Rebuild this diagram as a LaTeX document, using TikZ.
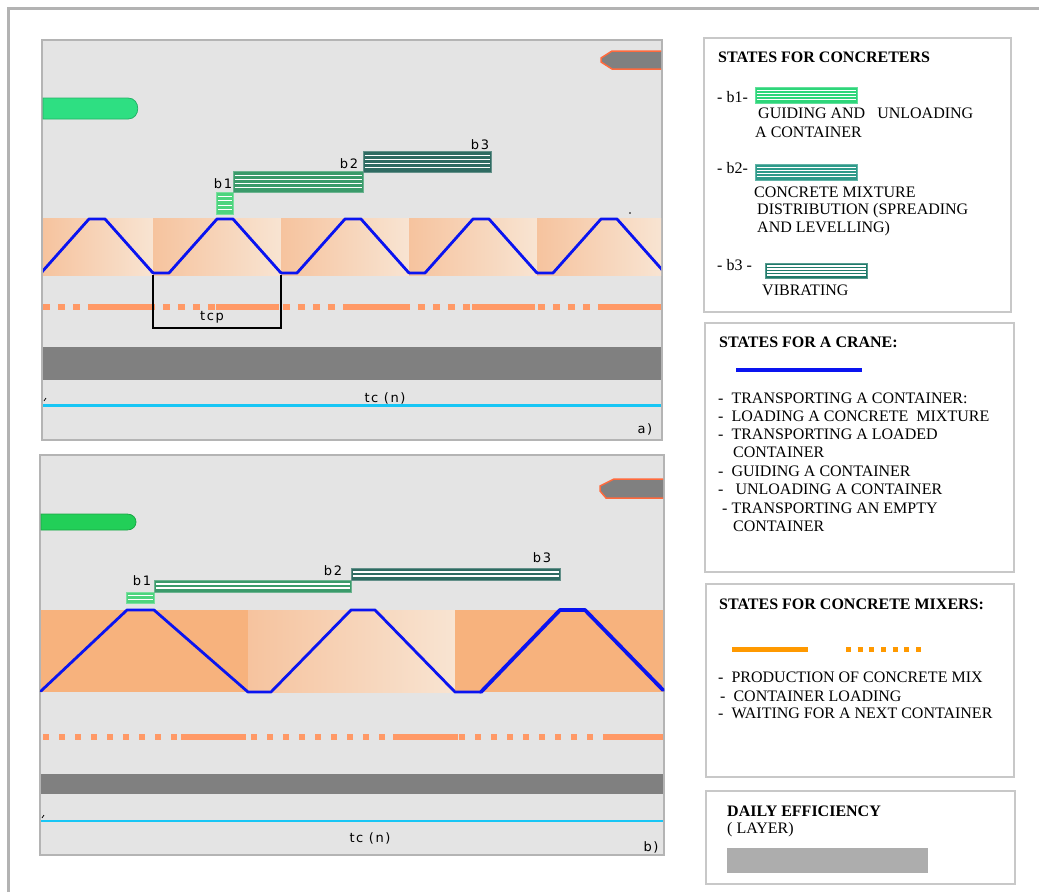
\documentclass[tikz,border=0pt]{standalone}
\usepackage{fontspec}
\setmainfont{Liberation Serif}
\newfontfamily\chartfont[LetterSpace=12]{DejaVu Sans}

\definecolor{panelbg}{HTML}{E4E4E4}
\definecolor{panelrule}{HTML}{B4B4B4}
\definecolor{boxrule}{HTML}{C8C8C8}
\definecolor{framerule}{HTML}{B3B3B3}
\definecolor{pillgreen}{HTML}{2EDF82}
\definecolor{pillgreenb}{HTML}{22CF58}
\definecolor{arrowgrey}{HTML}{808080}
\definecolor{arroworange}{HTML}{FF6A3D}
\definecolor{craneblue}{HTML}{0A14F0}
\definecolor{peachD}{HTML}{F6C39E}
\definecolor{peachL}{HTML}{F8E4D2}
\definecolor{peachS}{HTML}{F7B27D}
\definecolor{mixorange}{HTML}{FF9966}
\definecolor{legorange}{HTML}{FF9900}
\definecolor{bandgrey}{HTML}{808080}
\definecolor{layergrey}{HTML}{ADADAD}
\definecolor{timecyan}{HTML}{18C6F5}
\definecolor{bgreenL}{HTML}{4DD47E}
\definecolor{bgreenB}{HTML}{3A9A6A}
\definecolor{bteal}{HTML}{2F6B62}
\definecolor{lgreen}{HTML}{2ED67A}
\definecolor{lteal}{HTML}{2E9A8A}
\definecolor{ldteal}{HTML}{1F7A6A}

% striped state bar: x1,y1,x2,y2,colour,number of stripes
\newcommand{\hatchbar}[6]{%
  \filldraw[fill=#5, draw=#5!75!white, line width=0.8] (#1,#2) rectangle (#3,#4);
  \foreach \nn in {1,...,#6}
    \draw[white, line width=1.1] (#1+1.5,{#2+\nn*(#4-#2)/(#6+1)}) -- (#3-1.5,{#2+\nn*(#4-#2)/(#6+1)});
}

\begin{document}
\begin{tikzpicture}[x=1pt,y=-1pt,
panel/.style ={draw=panelrule, line width=2.5, fill=panelbg},
legbox/.style ={draw=boxrule, line width=1.8},
crane/.style ={draw=craneblue, line width=2.8, line join=round, line cap=round},
mixline/.style ={draw=mixorange, line width=6},
chartlbl/.style ={inner sep=0, font=\chartfont\fontsize{13}{13}\selectfont},
legtxt/.style ={anchor=west, inner sep=0, font=\fontsize{16}{18}\selectfont},
legtitle/.style ={anchor=west, inner sep=0, font=\fontsize{16}{18}\selectfont\bfseries}
]
\useasboundingbox (0,0) rectangle (1039,892);
\fill[white] (0,0) rectangle (1039,892);
\draw[framerule, line width=3] (8,892) -- (8,8) -- (1039,8);

% ---- chart a) ----
\draw[panel] (42,40) rectangle (662,440);
\filldraw[fill=pillgreen, draw=pillgreen!80!black, line width=0.8]
  (43,98) -- (128,98) .. controls (141,98) and (141,119) .. (128,119) -- (43,119) -- cycle;
\fill[arrowgrey] (661,51) -- (612,51) -- (601,58) -- (601,62) -- (612,69) -- (661,69) -- cycle;
\draw[arroworange, line width=1.5] (661,51) -- (612,51) -- (601,58) -- (601,62) -- (612,69) -- (661,69);

\foreach \xa/\xb in {43/153,153/281,281/409,409/537,537/661}
  \shade[left color=peachD, right color=peachL] (\xa,218) rectangle (\xb,275);
\begin{scope}
\clip (43,40) rectangle (661,440);
\foreach \s in {25,153,281,409,537}
  \draw[crane] (\s,273) -- (\s+16,273) -- (\s+64,219) -- (\s+80,219) -- (\s+128,273);
\end{scope}

\hatchbar{216}{192}{233}{214}{bgreenL}{4}
\hatchbar{233}{171}{363}{192}{bgreenB}{4}
\hatchbar{363}{151}{491}{172}{bteal}{4}
\node (b1a) at (223,184) [chartlbl] {b1};
\node (b2a) at (349,164) [chartlbl] {b2};
\node (b3a) at (480,145) [chartlbl] {b3};
\fill (630,213) circle (0.9);

\draw[mixline, dash pattern=on 7 off 8] (43,307) -- (661,307);
\foreach \xa in {88,216,344,472,600}
  \draw[mixline] (\xa,307) -- ({min(\xa+63,661)},307);

\coordinate (ta) at (153,275);
\coordinate (tb) at (281,275);
\coordinate (tc1) at (153,328);
\coordinate (tc2) at (281,328);
\draw[line width=1.3] (ta) -- (tc1) -- (tc2) -- (tb);
\node (tcp) at (212,317) [chartlbl] {tcp};

\fill[bandgrey] (43,347) rectangle (661,380);
\draw[timecyan, line width=3] (43,405) -- (661,405);
\draw[line width=0.8] (44,401) -- (46,398);
\node (tca) at (385,398) [chartlbl] {tc (n)};
\node (pa) at (645,429) [chartlbl] {a)};

% ---- chart b) ----
\draw[panel] (40,455) rectangle (664,855);
\filldraw[fill=pillgreenb, draw=pillgreenb!80!black, line width=0.8]
  (41,514) -- (127,514) .. controls (139,514) and (139,530) .. (127,530) -- (41,530) -- cycle;
\fill[arrowgrey] (663,479) -- (614,479) -- (600,486) -- (600,491) -- (606,498) -- (663,498) -- cycle;
\draw[arroworange, line width=1.5] (663,479) -- (614,479) -- (600,486) -- (600,491) -- (606,498) -- (663,498);

\fill[peachS] (41,610) rectangle (248,692);
\shade[left color=peachD, right color=peachL] (248,610) rectangle (455,692);
\fill[peachS] (455,610) rectangle (663,692);
\draw[crane] (41,691) -- (127,610) -- (154,610) -- (248,692) -- (271,692) -- (351,610)
  -- (375,610) -- (455,692) -- (481,692);
\draw[crane, line width=3.8] (481,692) -- (560,610) -- (585,610) -- (663,690);

\hatchbar{126}{592}{154}{603}{bgreenL}{2}
\hatchbar{154}{580}{351}{592}{bgreenB}{2}
\hatchbar{351}{568}{560}{580}{bteal}{2}
\node (b1b) at (142,581) [chartlbl] {b1};
\node (b2b) at (333,571) [chartlbl] {b2};
\node (b3b) at (542,558) [chartlbl] {b3};

\draw[mixline, dash pattern=on 6 off 10] (43,737) -- (663,737);
\foreach \xa/\xb in {181/246,393/458,606/663}
  \draw[mixline] (\xa,737) -- (\xb,737);

\fill[bandgrey] (41,774) rectangle (663,794);
\draw[timecyan, line width=2.2] (41,821) -- (663,821);
\draw[line width=0.8] (42,818) -- (44,815);
\node (tcb) at (370,838) [chartlbl] {tc (n)};
\node (pb) at (651,847) [chartlbl] {b)};

% ---- legend: concreters ----
\draw[legbox] (704,38) rectangle (1011,312);
\node (lc) at (718,57) [legtitle] {STATES FOR CONCRETERS};
\node (lb1) at (717,97) [legtxt] {- b1-};
\hatchbar{755}{87}{857}{103}{lgreen}{4}
\node (lb1t) at (758,113) [legtxt] {GUIDING AND \ \ UNLOADING};
\node (lb1u) at (755,132) [legtxt] {A CONTAINER};
\node (lb2) at (717,168) [legtxt] {- b2-};
\hatchbar{755}{164}{857}{180}{lteal}{4}
\node (lb2t) at (754,192) [legtxt] {CONCRETE MIXTURE};
\node (lb2u) at (757,211) [legtxt] {DISTRIBUTION (SPREADING};
\node (lb2v) at (757,229) [legtxt] {AND LEVELLING)};
\node (lb3) at (717,265) [legtxt] {- b3 -};
\hatchbar{765}{263}{867}{278}{ldteal}{4}
\node (lb3t) at (762,290) [legtxt] {VIBRATING};

% ---- legend: crane ----
\draw[legbox] (705,323) rectangle (1014,572);
\node (lk) at (719,342) [legtitle] {STATES FOR A CRANE:};
\draw[craneblue, line width=3.5] (736,370) -- (862,370);
\node (lk1) at (718,398) [legtxt] {-\ \ TRANSPORTING A CONTAINER:};
\node (lk2) at (718,416) [legtxt] {-\ \ LOADING A CONCRETE \ MIXTURE};
\node (lk3) at (718,434) [legtxt] {-\ \ TRANSPORTING A LOADED};
\node (lk4) at (733,452) [legtxt] {CONTAINER};
\node (lk5) at (718,471) [legtxt] {-\ \ GUIDING A CONTAINER};
\node (lk6) at (718,489) [legtxt] {-\ \ \ UNLOADING A CONTAINER};
\node (lk7) at (722,508) [legtxt] {- TRANSPORTING AN EMPTY};
\node (lk8) at (733,526) [legtxt] {CONTAINER};

% ---- legend: mixers ----
\draw[legbox] (706,584) rectangle (1014,777);
\node (lm) at (719,604) [legtitle] {STATES FOR CONCRETE MIXERS:};
\draw[legorange, line width=5] (732,649) -- (808,649);
\draw[legorange, line width=5, dash pattern=on 5 off 6.67] (846,649) -- (921,649);
\node (lm1) at (718,677) [legtxt] {-\ \ PRODUCTION OF CONCRETE MIX};
\node (lm2) at (720,696) [legtxt] {-\ \ CONTAINER LOADING};
\node (lm3) at (718,713) [legtxt] {-\ \ WAITING FOR A NEXT CONTAINER};

% ---- legend: daily efficiency ----
\draw[legbox] (706,791) rectangle (1015,884);
\node (le) at (727,811) [legtitle] {DAILY EFFICIENCY};
\node (le1) at (727,830) [legtxt] {( LAYER)};
\fill[layergrey] (727,848) rectangle (928,873);
\end{tikzpicture}
\end{document}
